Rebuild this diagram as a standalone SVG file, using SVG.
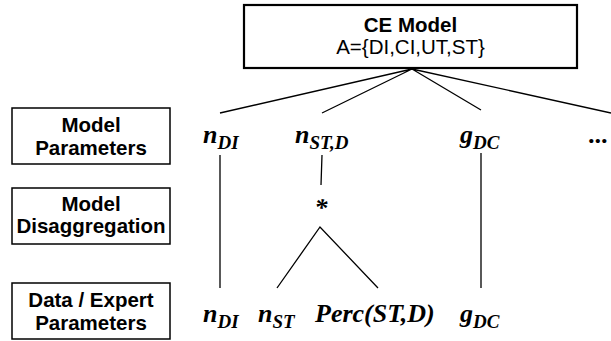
<svg xmlns="http://www.w3.org/2000/svg" width="611" height="341" viewBox="0 0 611 341">
<style>
.box{fill:#fff;stroke:#000;stroke-width:1.5}
.top{fill:#fff;stroke:#000;stroke-width:2.2}
.lbl{font-family:"Liberation Sans",Arial,sans-serif;font-weight:bold;font-size:20.5px;text-anchor:middle;fill:#000}
.reg{font-family:"Liberation Sans",Arial,sans-serif;font-size:20.5px;text-anchor:middle;fill:#000}
.m{font-family:"Liberation Serif","Times New Roman",serif;font-weight:bold;font-style:italic;font-size:26px;fill:#000}
.s{font-size:19px}
.ln{stroke:#000;stroke-width:1.3;fill:none}
</style>
<rect width="611" height="341" fill="#fff"/>
<g id="ce-model">
<rect class="top" x="244" y="5" width="333" height="63"/>
<text class="lbl" x="410.5" y="32">CE Model</text>
<text class="reg" x="410.5" y="54">A={DI,CI,UT,ST}</text>
</g>
<g id="model-parameters">
<rect class="box" x="12" y="108" width="158" height="56"/>
<text class="lbl" x="91" y="132">Model</text>
<text class="lbl" x="91" y="155">Parameters</text>
</g>
<g id="model-disaggregation">
<rect class="box" x="12" y="188" width="158" height="56"/>
<text class="lbl" x="91" y="211">Model</text>
<text class="lbl" x="91" y="233">Disaggregation</text>
</g>
<g id="data-expert-parameters">
<rect class="box" x="12" y="283" width="158" height="56"/>
<text class="lbl" x="91" y="307">Data / Expert</text>
<text class="lbl" x="91" y="330">Parameters</text>
</g>
<g id="connectors">
<path class="ln" d="M412 69 L220 113 M412 69 L322 113 M412 69 L481 110 M412 69 L611 113"/>
<path class="ln" d="M220 155 L220 288 M481 153 L481 288 M322 155 L321 185"/>
<path class="ln" d="M277 288 L320 227 L378 288"/>
</g>
<g id="p-nDI"><text class="m" x="203" y="143">n<tspan class="s" dy="6">DI</tspan></text></g>
<g id="p-nSTD"><text class="m" x="295" y="143">n<tspan class="s" dy="6">ST,D</tspan></text></g>
<g id="p-gDC"><text class="m" x="460" y="143">g<tspan class="s" dy="6">DC</tspan></text></g>
<g id="p-more"><text class="m" x="589" y="143">...</text></g>
<g id="op-mult"><text class="m" x="321" y="216" text-anchor="middle" font-style="normal">*</text></g>
<g id="d-nDI"><text class="m" x="203" y="322">n<tspan class="s" dy="6">DI</tspan></text></g>
<g id="d-nST"><text class="m" x="258" y="322">n<tspan class="s" dy="6">ST</tspan></text></g>
<g id="d-perc"><text class="m" x="315" y="322">Perc(ST,D)</text></g>
<g id="d-gDC"><text class="m" x="460" y="322">g<tspan class="s" dy="6">DC</tspan></text></g>
</svg>
